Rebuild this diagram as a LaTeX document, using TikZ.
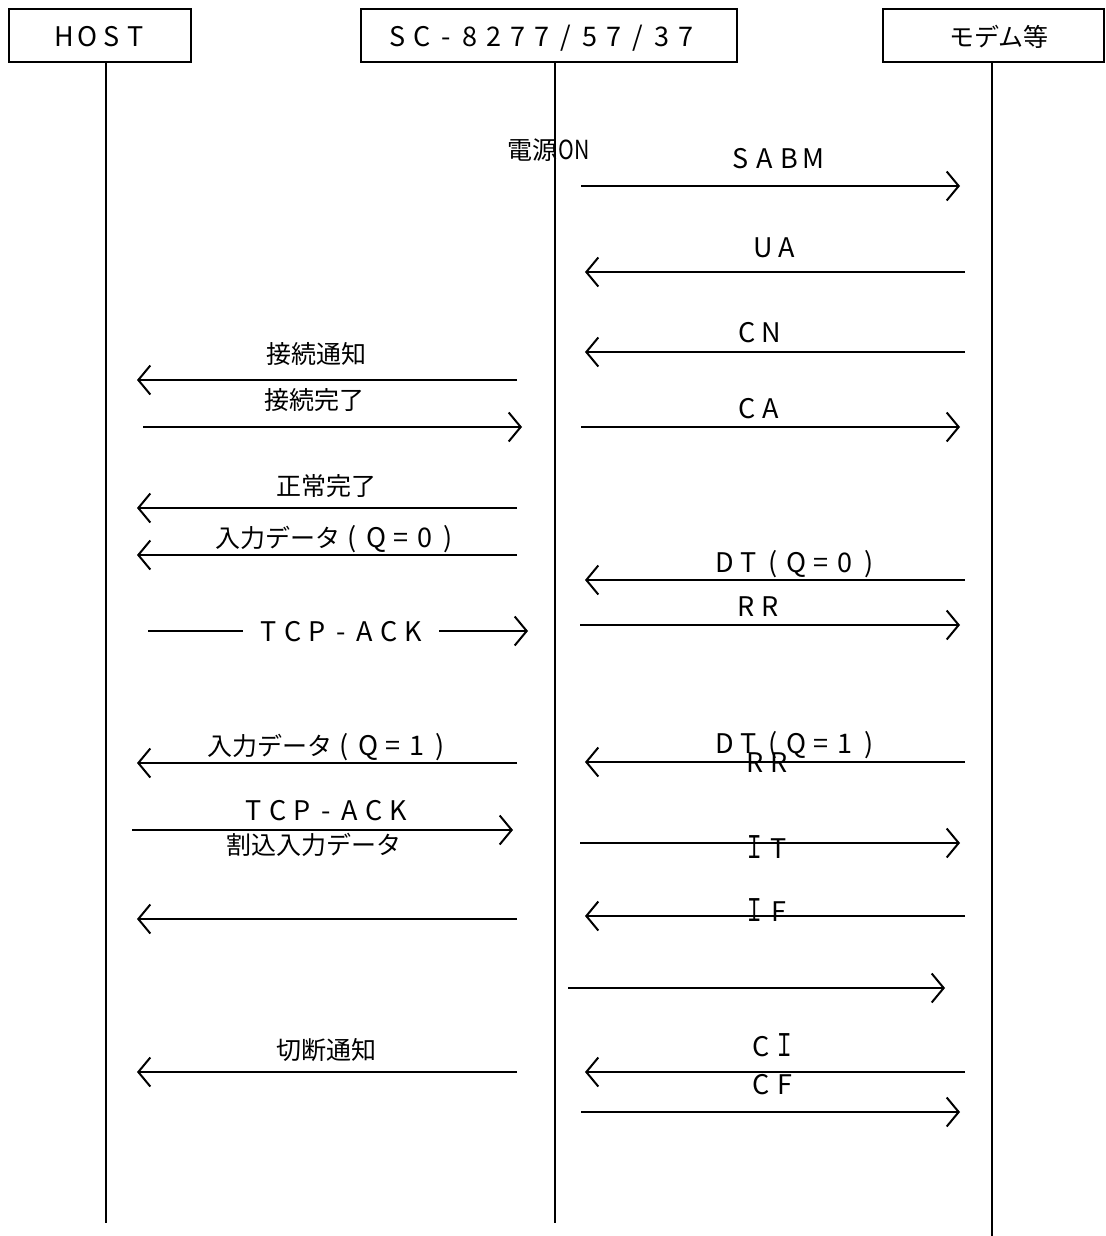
\documentclass[tikz,border=0pt]{standalone}
\usepackage{fontspec}
\setmainfont{Noto Sans CJK JP}
\usetikzlibrary{arrows.meta}
\makeatletter
\def\fwloop#1{\ifx\relax#1\else\makebox[24pt][c]{\fontsize{27}{30}\selectfont #1}\expandafter\fwloop\fi}
\newcommand\fw[1]{\fwloop#1\relax}
\newcommand\fwI{\makebox[24pt][c]{\fontsize{24}{28}\selectfont\scalebox{0.85}[1.3]{Ｉ}}}
\makeatother
\begin{document}
\begin{tikzpicture}[x=1pt,y=-1pt,
  box/.style={draw,line width=1.6pt,inner sep=0pt,minimum height=53pt},
  life/.style={line width=2pt},
  msg/.style={line width=2pt,-{Straight Barb[length=12pt,width=29pt,line width=2pt]}},
  lbl/.style={inner sep=0pt,text height=21pt,text depth=3pt,font=\fontsize{25}{28}\selectfont}]
\useasboundingbox[fill=white] (0,0) rectangle (1105,1236);

% header boxes
\node[box,minimum width=182pt] (hostbox) at (100,35.5) {};
\node[box,minimum width=376pt] (scbox) at (549,35.5) {};
\node[box,minimum width=221pt] (modembox) at (993.5,35.5) {};
\node[lbl] (hostlbl) at (100,38) {\fw{HOST}};
\node[lbl] (sclbl) at (542,38) {\fw{SC-8277/57/37}};
\node[lbl] (modemlbl) at (999,38) {モデム等};

% lifelines
\coordinate (hostTop) at (106,62);
\coordinate (hostEnd) at (106,1223);
\coordinate (scTop) at (555,62);
\coordinate (scEnd) at (555,1223);
\coordinate (modemTop) at (992,62);
\coordinate (modemEnd) at (992,1236);
\draw[life] (hostTop) -- (hostEnd);
\draw[life] (scTop) -- (scEnd);
\draw[life] (modemTop) -- (modemEnd);

\node[lbl] (power) at (549,150) {電源\kern1pt\scalebox{0.85}[1.05]{ON}};

% right side messages
\coordinate (r1a) at (581,186);  \coordinate (r1b) at (960,186);
\coordinate (r2a) at (965,272);  \coordinate (r2b) at (585,272);
\coordinate (r3a) at (965,352);  \coordinate (r3b) at (585,352);
\coordinate (r4a) at (581,427);  \coordinate (r4b) at (960,427);
\coordinate (r5a) at (965,580);  \coordinate (r5b) at (585,580);
\coordinate (r6a) at (580,625);  \coordinate (r6b) at (960,625);
\coordinate (r7a) at (965,762);  \coordinate (r7b) at (585,762);
\coordinate (r8a) at (580,843);  \coordinate (r8b) at (960,843);
\coordinate (r9a) at (965,916);  \coordinate (r9b) at (585,916);
\coordinate (r10a) at (568,988); \coordinate (r10b) at (945,988);
\coordinate (r11a) at (965,1072); \coordinate (r11b) at (585,1072);
\coordinate (r12a) at (581,1112); \coordinate (r12b) at (960,1112);
\foreach \i in {1,...,12} \draw[msg] (r\i a) -- (r\i b);

% left side messages
\coordinate (l1a) at (517,380); \coordinate (l1b) at (137,380);
\coordinate (l2a) at (143,427); \coordinate (l2b) at (522,427);
\coordinate (l3a) at (517,508); \coordinate (l3b) at (137,508);
\coordinate (l4a) at (517,555); \coordinate (l4b) at (137,555);
\coordinate (l5a) at (148,631); \coordinate (l5b) at (528,631);
\coordinate (l6a) at (517,763); \coordinate (l6b) at (137,763);
\coordinate (l7a) at (132,830); \coordinate (l7b) at (513,830);
\coordinate (l8a) at (517,919); \coordinate (l8b) at (137,919);
\coordinate (l9a) at (517,1072); \coordinate (l9b) at (137,1072);
\foreach \i in {1,...,9} \draw[msg] (l\i a) -- (l\i b);

% right labels
\node[lbl] (tSABM) at (777,159) {\fw{SABM}};
\node[lbl] (tUA) at (775,248) {\fw{UA}};
\node[lbl] (tCN) at (759,333) {\fw{CN}};
\node[lbl] (tCA) at (759,409) {\fw{CA}};
\node[lbl] (tDT0) at (797,563) {\fw{DT(Q=0)}};
\node[lbl] (tRR1) at (758,607) {\fw{RR}};
\node[lbl] (tDT1) at (797,744) {\fw{DT(Q=1)}};
\node[lbl] (tRR2) at (767,763) {\fw{RR}};
\node[lbl] (tIT) at (767,849) {\fwI\fw{T}};
\node[lbl] (tIF) at (767,912) {\fwI\fw{F}};
\node[lbl] (tCI) at (773,1047) {\fw{C}\fwI};
\node[lbl] (tCF) at (773,1085) {\fw{CF}};

% left labels
\node[lbl] (tConnN) at (316,354) {接続通知};
\node[lbl] (tConnC) at (314,400) {接続完了};
\node[lbl] (tNorm) at (326,486) {正常完了};
\node[lbl] (tIn0) at (338,538) {入力データ\fw{(Q=0)}};
\node[lbl,fill=white,inner xsep=14pt] (tAck1) at (341,632) {\fw{TCP-ACK}};
\node[lbl] (tIn1) at (330,746) {入力データ\fw{(Q=1)}};
\node[lbl] (tAck2) at (326,811) {\fw{TCP-ACK}};
\node[lbl] (tIntr) at (314,845) {割込入力データ};
\node[lbl] (tDisc) at (326,1050) {切断通知};
\end{tikzpicture}
\end{document}
